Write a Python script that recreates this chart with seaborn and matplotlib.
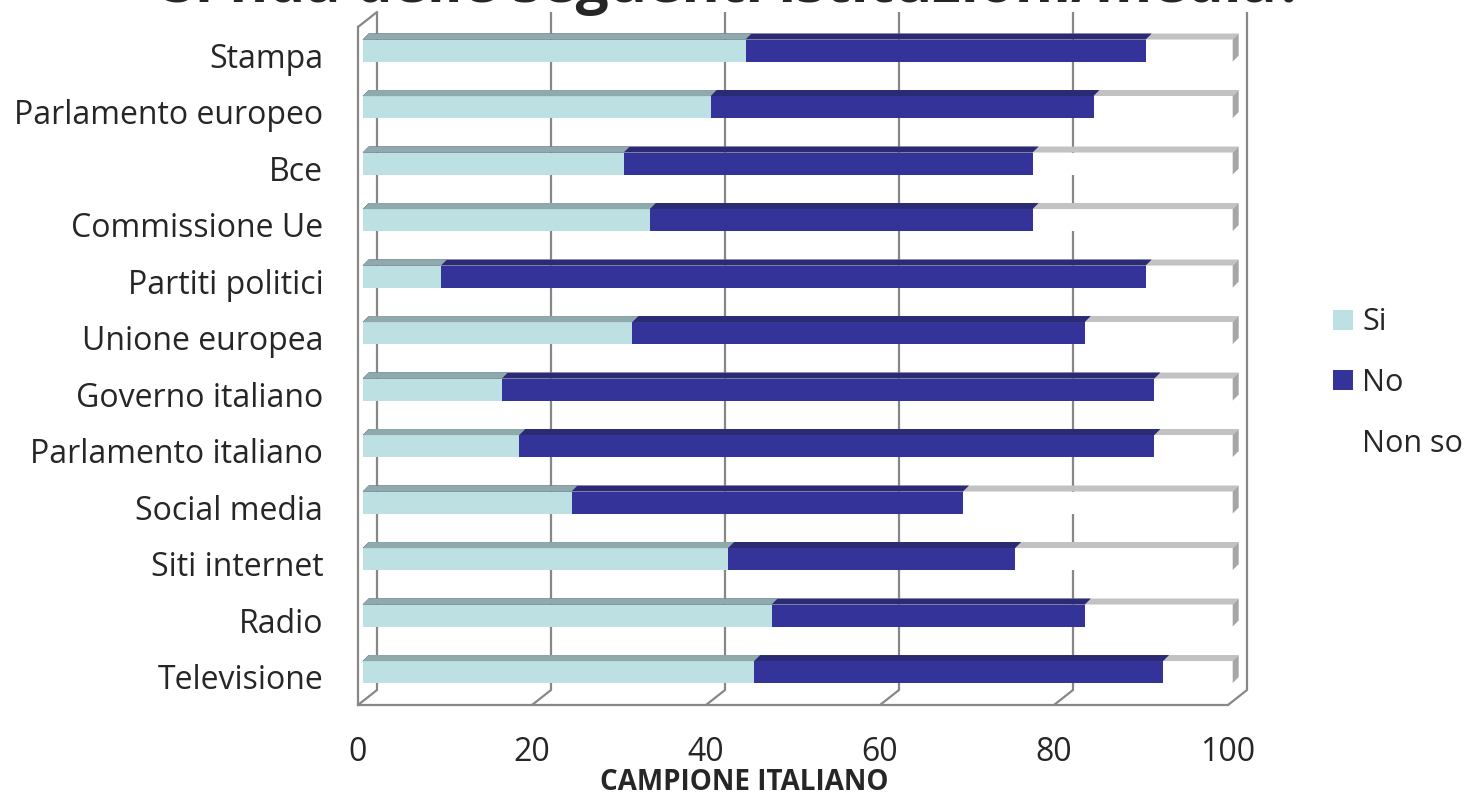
import matplotlib
matplotlib.use("Agg")
import matplotlib.pyplot as plt
import seaborn as sns
import pandas as pd
from matplotlib.patches import Polygon, Patch

# values (percent)
categories = ["Stampa", "Parlamento europeo", "Bce", "Commissione Ue", "Partiti politici",
              "Unione europea", "Governo italiano", "Parlamento italiano", "Social media",
              "Siti internet", "Radio", "Televisione"]
si = [44, 40, 30, 33, 9, 31, 16, 18, 24, 42, 47, 45]
no = [46, 44, 47, 44, 81, 52, 75, 73, 45, 33, 36, 47]
non_so = [10, 16, 23, 23, 10, 17, 9, 9, 31, 25, 17, 8]
series = ["Si", "No", "Non so"]
x_ticks = [0, 20, 40, 60, 80, 100]

front = {"Si": "#bde1e3", "No": "#343399", "Non so": "#ffffff"}
top = {"Si": "#8eaaaa", "No": "#2a2a75", "Non so": "#c2c2c2"}
grid_col = "#878787"

df = pd.DataFrame({"cat": categories, "Si": si, "No": no, "Non so": non_so})
df["cum_no"] = df["Si"] + df["No"]
df["cum_all"] = df["cum_no"] + df["Non so"]

sns.set_style("white")
plt.rcParams["font.family"] = ["Open Sans", "DejaVu Sans"]

W, H = 1468, 796
fig = plt.figure(figsize=(W / 100, H / 100), dpi=100)
# front plane of the 3d box in pixels
L, R, B, T = 358, 1228, 705, 27
ax = fig.add_axes([L / W, 1 - B / H, (R - L) / W, (B - T) / H])

n = len(categories)
px_x = (R - L) / 100.0
px_y = (B - T) / n


def dx(p):
    return p / px_x


def dy(p):
    # p pixels upward -> data units (y axis is inverted)
    return -p / px_y


# back wall depth
DEPTH_X, DEPTH_Y = 19, 15
# bar placement inside the box and bar depth
BAR_SHIFT_X, BAR_SHIFT_Y = 4.7, 4.7
BAR_D = 6

# stacked bars drawn as cumulative totals
order = [("cum_all", "Non so"), ("cum_no", "No"), ("Si", "Si")]
for col, name in order:
    sns.barplot(data=df, x=col, y="cat", color=front[name], width=0.39,
                saturation=1, ax=ax, orient="h", zorder=3)

ax.set_xlim(0, 100)
ax.set_ylim(n - 0.5, -0.5)

groups = [ax.patches[i * n:(i + 1) * n] for i in range(3)]
for (col, name), patches in zip(order, groups):
    for p in patches:
        p.set_x(p.get_x() + dx(BAR_SHIFT_X))
        p.set_y(p.get_y() + dy(BAR_SHIFT_Y))
        p.set_edgecolor("none")
        p.set_clip_on(False)
        x0, y0 = p.get_x(), p.get_y()
        x1 = x0 + p.get_width()
        # top face
        topface = Polygon([(x0, y0), (x1, y0), (x1 + dx(BAR_D), y0 + dy(BAR_D)),
                           (x0 + dx(BAR_D), y0 + dy(BAR_D))],
                          closed=True, facecolor=top[name], edgecolor="none", zorder=4,
                          clip_on=False)
        ax.add_patch(topface)
        if name == "Non so":
            y1 = y0 + p.get_height()
            side = Polygon([(x1, y0), (x1 + dx(BAR_D), y0 + dy(BAR_D)),
                            (x1 + dx(BAR_D), y1 + dy(BAR_D)), (x1, y1)],
                           closed=True, facecolor="#a6a6a6", edgecolor="none", zorder=4,
                           clip_on=False)
            ax.add_patch(side)

# back wall grid lines and floor diagonals
floor_back = n - 0.5 + dy(DEPTH_Y)
top_y = -0.5 + dy(DEPTH_Y)
back_x = [xv + dx(DEPTH_X) for xv in x_ticks]
ax.vlines(back_x, floor_back, top_y, colors=grid_col, lw=1.6, zorder=1.5,
          clip_on=False)
for xv, bx in zip(x_ticks, back_x):
    ax.plot([xv, bx], [n - 0.5, floor_back], color=grid_col, lw=1.6, zorder=1.5,
            clip_on=False)
# top-left diagonal of the side wall
ax.plot([0, dx(DEPTH_X)], [-0.5, top_y], color=grid_col, lw=1.6, zorder=1.5,
        clip_on=False)
ax.set_xlim(0, 100)
ax.set_ylim(n - 0.5, -0.5)

# axes styling
for s in ["top", "right"]:
    ax.spines[s].set_visible(False)
for s in ["left", "bottom"]:
    ax.spines[s].set_color(grid_col)
    ax.spines[s].set_linewidth(1.6)
    ax.spines[s].set_zorder(2)

ax.set_xticks(x_ticks)
ax.set_xticklabels([str(v) for v in x_ticks], fontsize=23)
ax.set_yticks(range(n))
ax.set_yticklabels(categories, fontsize=23)
ax.set_yticks([i - 0.5 for i in range(n + 1)], minor=True)
ax.tick_params(axis="x", length=8, width=1.6, color=grid_col, pad=14)
ax.tick_params(axis="y", which="major", length=0, pad=25)
ax.tick_params(axis="y", which="minor", length=8, width=1.6, color=grid_col)
ax.set_ylabel("")
ax.set_xlabel("CAMPIONE ITALIANO", fontsize=20, fontweight="bold")
ax.xaxis.set_label_coords((744 - L) / (R - L), -(783 - B) / (B - T))
ax.xaxis.label.set_va("center")

# title, cut off by the top edge as in the original
fig.text(0.5, 1 - 2 / H, "Si fida delle seguenti istituzioni/media?", ha="center",
         va="baseline", fontsize=42, fontweight="bold")

handles = [Patch(facecolor=front[s], edgecolor="none", label=s) for s in series]
fig.legend(handles=handles, loc="center left", bbox_to_anchor=(1333 / W, 1 - 383 / H),
           frameon=False, fontsize=22, handlelength=0.65, handleheight=0.65,
           handletextpad=0.3, labelspacing=1.0, borderpad=0, borderaxespad=0)

plt.savefig("out.png", dpi=100)
